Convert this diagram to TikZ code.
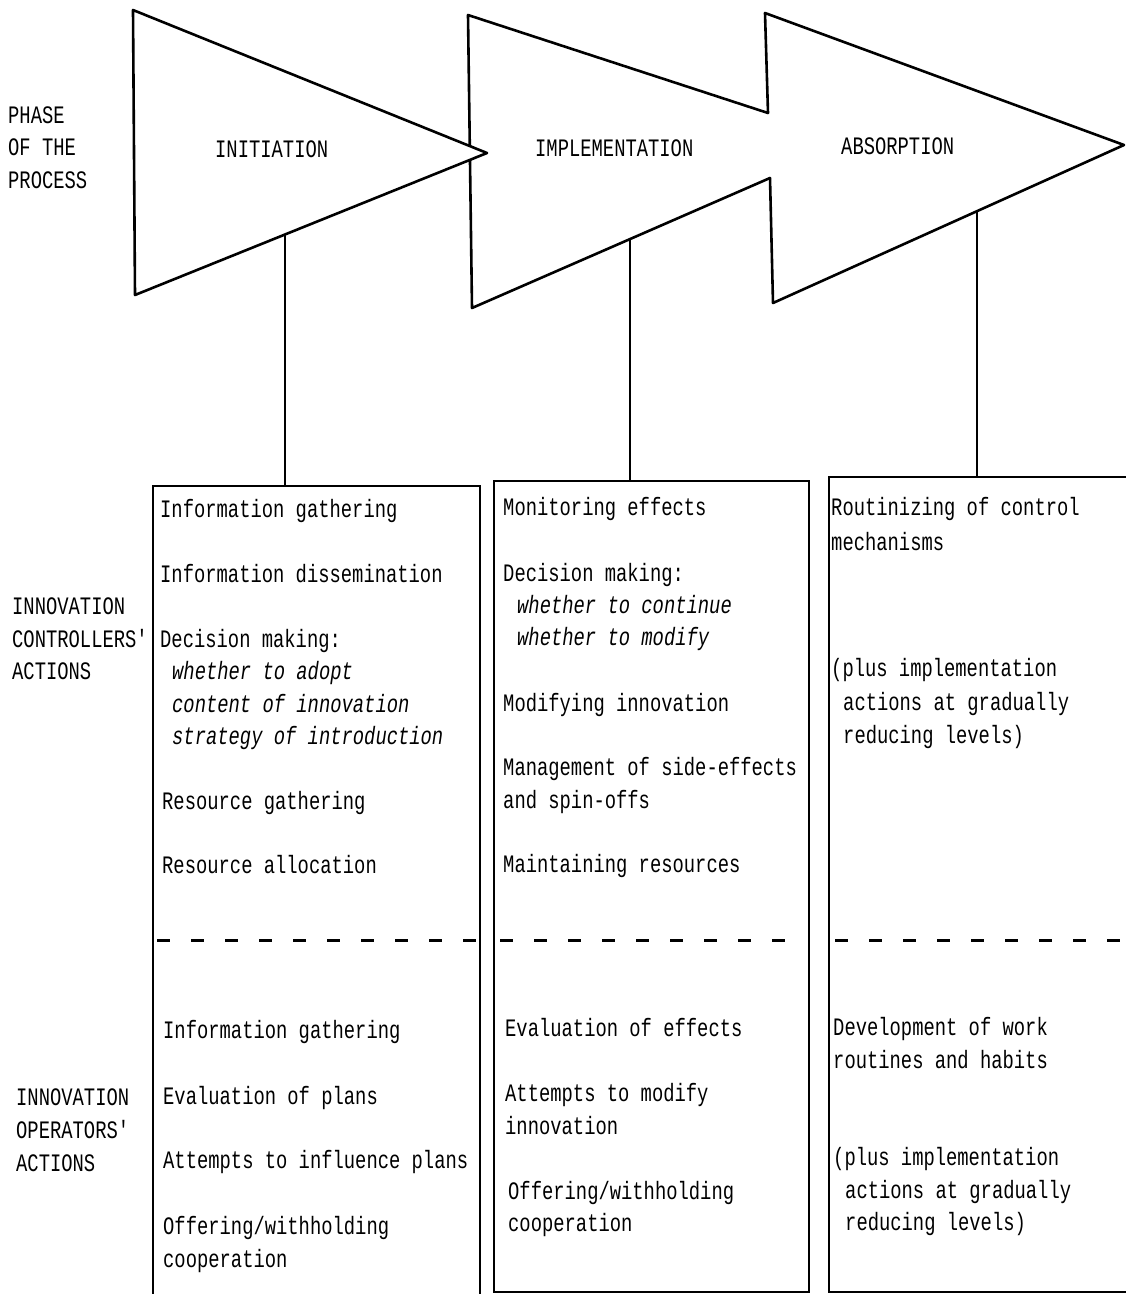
\documentclass[tikz,border=0pt]{standalone}
\usepackage{fontspec}
\newfontfamily\typer[FakeStretch=0.75]{Liberation Mono}
\usetikzlibrary{calc}
\begin{document}
\begin{tikzpicture}[x=1pt,y=-1pt,
  edge/.style={line width=2.6pt, line join=round, line cap=round},
  boxline/.style={line width=2.4pt},
  divider/.style={line width=3pt, dash pattern=on 13pt off 21pt},
  lbl/.style={anchor=base west, inner sep=0pt, font=\typer\fontsize{25.1}{30}\selectfont},
  opt/.style={lbl, font=\typer\itshape\fontsize{25.1}{30}\selectfont}]
\useasboundingbox (0,0) rectangle (1126,1294);

% phase arrows
\coordinate (T1a) at (133,10);
\coordinate (T1tip) at (487,153);
\coordinate (T1b) at (135,295);
\coordinate (T2a) at (468,15);
\coordinate (T2b) at (472,308);
\coordinate (T2u) at (768,113);
\coordinate (T2l) at (770,178);
\coordinate (T3a) at (765,13);
\coordinate (T3tip) at (1124,145);
\coordinate (T3b) at (773,303);

\draw[edge] (T2u) -- (T2a) -- (T2b) -- (T2l);
\draw[edge] (T2u) -- (T3a) -- (T3tip) -- (T3b) -- (T2l);
\filldraw[edge, fill=white] (T1a) -- (T1tip) -- (T1b) -- cycle;

\node[lbl] (ini) at (215,157) {INITIATION};
\node[lbl] (imp) at (535,156) {IMPLEMENTATION};
\node[lbl] (abs) at (841,154) {ABSORPTION};

% action boxes
\node[boxline, draw, anchor=north west, minimum width=327pt, minimum height=830pt] (box1) at (152,485) {};
\node[boxline, draw, anchor=north west, minimum width=315pt, minimum height=811pt] (box2) at (493,480) {};
\node[boxline, draw, anchor=north west, minimum width=330pt, minimum height=815pt] (box3) at (828,476) {};

% links from phases to boxes
\coordinate (c1) at ($(T1b)!0.426!(T1tip)$);
\coordinate (c2) at ($(T2b)!0.53!(T2l)$);
\coordinate (c3) at ($(T3b)!0.582!(T3tip)$);
\draw[boxline] (c1) -- (c1 |- box1.north);
\draw[boxline] (c2) -- (c2 |- box2.north);
\draw[boxline] (c3) -- (c3 |- box3.north);

% controllers / operators split
\draw[divider] (157,940) -- (476,940);
\draw[divider] (500,940) -- (803,940);
\draw[divider] (835,940) -- (1120,940);

% row labels
\node[lbl] (p1) at (8,123) {PHASE};
\node[lbl] (p2) at (8,155) {OF THE};
\node[lbl] (p3) at (8,188) {PROCESS};
\node[lbl] (ic1) at (12,614) {INNOVATION};
\node[lbl] (ic2) at (12,647) {CONTROLLERS'};
\node[lbl] (ic3) at (12,679) {ACTIONS};
\node[lbl] (io1) at (16,1105) {INNOVATION};
\node[lbl] (io2) at (16,1138) {OPERATORS'};
\node[lbl] (io3) at (16,1171) {ACTIONS};

% initiation
\node[lbl] (a1) at (160,517) {Information gathering};
\node[lbl] (a2) at (160,582) {Information dissemination};
\node[lbl] (a3) at (160,647) {Decision making:};
\node[opt] (a4) at (172,679) {whether to adopt};
\node[opt] (a5) at (172,712) {content of innovation};
\node[opt] (a6) at (172,744) {strategy of introduction};
\node[lbl] (a7) at (162,809) {Resource gathering};
\node[lbl] (a8) at (162,873) {Resource allocation};
\node[lbl] (a9) at (163,1038) {Information gathering};
\node[lbl] (a10) at (163,1104) {Evaluation of plans};
\node[lbl] (a11) at (163,1168) {Attempts to influence plans};
\node[lbl] (a12) at (163,1234) {Offering/withholding};
\node[lbl] (a13) at (163,1267) {cooperation};

% implementation
\node[lbl] (b1) at (503,515) {Monitoring effects};
\node[lbl] (b2) at (503,581) {Decision making:};
\node[opt] (b3) at (517,613) {whether to continue};
\node[opt] (b4) at (517,645) {whether to modify};
\node[lbl] (b5) at (503,711) {Modifying innovation};
\node[lbl] (b6) at (503,775) {Management of side-effects};
\node[lbl] (b7) at (503,808) {and spin-offs};
\node[lbl] (b8) at (503,872) {Maintaining resources};
\node[lbl] (b9) at (505,1036) {Evaluation of effects};
\node[lbl] (b10) at (505,1101) {Attempts to modify};
\node[lbl] (b11) at (505,1134) {innovation};
\node[lbl] (b12) at (508,1199) {Offering/withholding};
\node[lbl] (b13) at (508,1231) {cooperation};

% absorption
\node[lbl] (r1) at (831,515) {Routinizing of control};
\node[lbl] (r2) at (831,550) {mechanisms};
\node[lbl] (r3) at (831,676) {(plus implementation};
\node[lbl] (r4) at (843,710) {actions at gradually};
\node[lbl] (r5) at (843,743) {reducing levels)};
\node[lbl] (r6) at (833,1035) {Development of work};
\node[lbl] (r7) at (833,1068) {routines and habits};
\node[lbl] (r8) at (833,1165) {(plus implementation};
\node[lbl] (r9) at (845,1198) {actions at gradually};
\node[lbl] (r10) at (845,1230) {reducing levels)};
\end{tikzpicture}
\end{document}
